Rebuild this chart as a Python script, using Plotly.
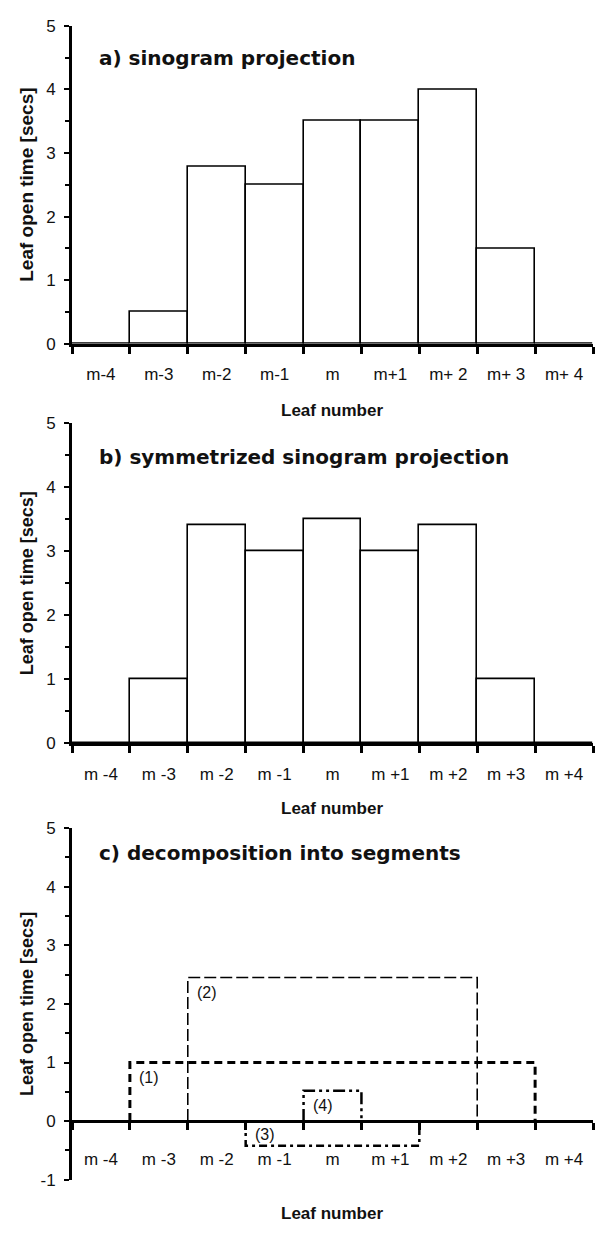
import plotly.graph_objects as go

# ---------------- data ----------------
categories = ["m-4", "m-3", "m-2", "m-1", "m", "m+1", "m+2", "m+3", "m+4"]
tick_labels_a = ["m-4", "m-3", "m-2", "m-1", "m", "m+1", "m+ 2", "m+ 3", "m+ 4"]
tick_labels_bc = ["m -4", "m -3", "m -2", "m -1", "m", "m +1", "m +2", "m +3", "m +4"]

sinogram_projection = [0, 0.5, 2.78, 2.5, 3.5, 3.5, 4.0, 1.5, 0]
symmetrized_projection = [0, 1.0, 3.4, 3.0, 3.5, 3.0, 3.4, 1.0, 0]

segment_names = ["(1)", "(2)", "(3)", "(4)"]
segment_start = ["m-3", "m-2", "m-1", "m"]
segment_end = ["m+3", "m+2", "m+1", "m"]
segment_height = [1.0, 2.45, -0.42, 0.52]

y_ticks_ab = [0, 1, 2, 3, 4, 5]
y_ticks_c = [-1, 0, 1, 2, 3, 4, 5]

titles = ["a) sinogram projection", "b) symmetrized sinogram projection",
          "c) decomposition into segments"]
y_title = "Leaf open time [secs]"
x_title = "Leaf number"

# ---------------- geometry helpers ----------------
W, H = 595, 1233


def px(p):
    return p / W


def py(p):
    return 1 - p / H


n = len(categories)
centers = [i + 0.5 for i in range(n)]
edges = list(range(n + 1))

X_DOM = [px(72), px(593)]
DOM_A = [py(340), py(17)]
DOM_B = [py(745.7), py(420.7)]
DOM_C = [py(1189), py(832)]

TICK_FONT = dict(family="Liberation Sans, Arial, sans-serif", size=17, color="#111")


def xaxis(labels, anchor, standoff, position=None):
    d = dict(
        domain=X_DOM, range=[0, n], tickmode="array", tickvals=centers,
        ticktext=labels, ticks="", showline=True, linecolor="black",
        linewidth=3, showgrid=False, zeroline=False, tickfont=TICK_FONT,
        ticklabelstandoff=standoff, anchor=anchor, fixedrange=True,
        minor=dict(tickmode="array", tickvals=edges, ticks="outside",
                   ticklen=7, tickwidth=2.5, tickcolor="black", showgrid=False),
    )
    if position is not None:
        d["position"] = position
        d["anchor"] = "free"
    return d


def yaxis(dom, rng, tv, anchor):
    return dict(
        domain=dom, range=rng, tickmode="array", tickvals=tv,
        ticktext=[str(v) for v in tv], ticks="outside",
        ticklen=5, tickwidth=2, tickcolor="black", showline=True,
        linecolor="black", linewidth=3, showgrid=False, zeroline=False,
        tickfont=TICK_FONT, ticklabelstandoff=5, anchor=anchor, fixedrange=True,
        minor=dict(dtick=0.5, tick0=0, ticks="outside", ticklen=4,
                   tickwidth=1.5, tickcolor="black", showgrid=False),
    )


fig = go.Figure()

bar_style = dict(marker=dict(color="white", line=dict(color="black", width=1.6)),
                 width=1, showlegend=False, hoverinfo="skip")
fig.add_trace(go.Bar(x=centers, y=sinogram_projection, xaxis="x", yaxis="y", **bar_style))
fig.add_trace(go.Bar(x=centers, y=symmetrized_projection, xaxis="x2", yaxis="y2", **bar_style))

seg_styles = [
    dict(width=3, dash="8px,5px"),
    dict(width=1.6, dash="12px,4px"),
    dict(width=2.5, dash="8px,4px,3px,4px"),
    dict(width=2.5, dash="12px,4px,3px,4px,3px,4px"),
]
for name, s, e, h, st in zip(segment_names, segment_start, segment_end,
                             segment_height, seg_styles):
    x0 = categories.index(s)
    x1 = categories.index(e) + 1
    fig.add_trace(go.Scatter(x=[x0, x0, x1, x1], y=[0, h, h, 0], mode="lines",
                             line=dict(color="black", **st), xaxis="x3", yaxis="y3",
                             showlegend=False, hoverinfo="skip"))

annotations = []
title_font = dict(family="DejaVu Sans", size=20, color="#111")
for t, ypix in zip(titles, [50, 455, 857]):
    annotations.append(dict(text="<b>%s</b>" % t, x=px(97), y=py(ypix), xref="paper",
                            yref="paper", xanchor="left", yanchor="middle",
                            showarrow=False, font=title_font))
for dom, size in zip([DOM_A, DOM_B, DOM_C], [19, 18, 18]):
    annotations.append(dict(text="<b>%s</b>" % y_title, x=px(27), y=(dom[0] + dom[1]) / 2,
                            xref="paper", yref="paper", xanchor="center",
                            yanchor="middle", textangle=-90, showarrow=False,
                            font=dict(family="Liberation Sans, Arial", size=size,
                                      color="#111")))
for ypix in [408, 812, 1223]:
    annotations.append(dict(text="<b>%s</b>" % x_title, x=px(332), y=py(ypix),
                            xref="paper", yref="paper", xanchor="center",
                            yanchor="middle", showarrow=False,
                            font=dict(family="Liberation Sans, Arial", size=17,
                                      color="#111")))
for name, s, h in zip(segment_names, segment_start, segment_height):
    x0 = categories.index(s)
    annotations.append(dict(text=name, x=x0, y=h, xref="x3", yref="y3",
                            xanchor="left", yanchor="middle", xshift=7,
                            yshift=(-15 if h > 0 else 11), showarrow=False,
                            font=dict(family="Liberation Sans, Arial", size=16,
                                      color="#111")))

zero_pos_c = DOM_C[0] + (0 - (-1)) / 6 * (DOM_C[1] - DOM_C[0])

fig.update_layout(
    width=W, height=H, margin=dict(l=0, r=0, t=0, b=0, pad=0),
    paper_bgcolor="white", plot_bgcolor="white", bargap=0,
    xaxis=xaxis(tick_labels_a, "y", 13),
    xaxis2=xaxis(tick_labels_bc, "y2", 13),
    xaxis3=xaxis(tick_labels_bc, "y3", 22, position=zero_pos_c),
    yaxis=yaxis(DOM_A, [0, 5], y_ticks_ab, "x"),
    yaxis2=yaxis(DOM_B, [0, 5], y_ticks_ab, "x2"),
    yaxis3=yaxis(DOM_C, [-1, 5], y_ticks_c, "x3"),
    annotations=annotations,
    showlegend=False,
)

fig.write_html("out.html")
